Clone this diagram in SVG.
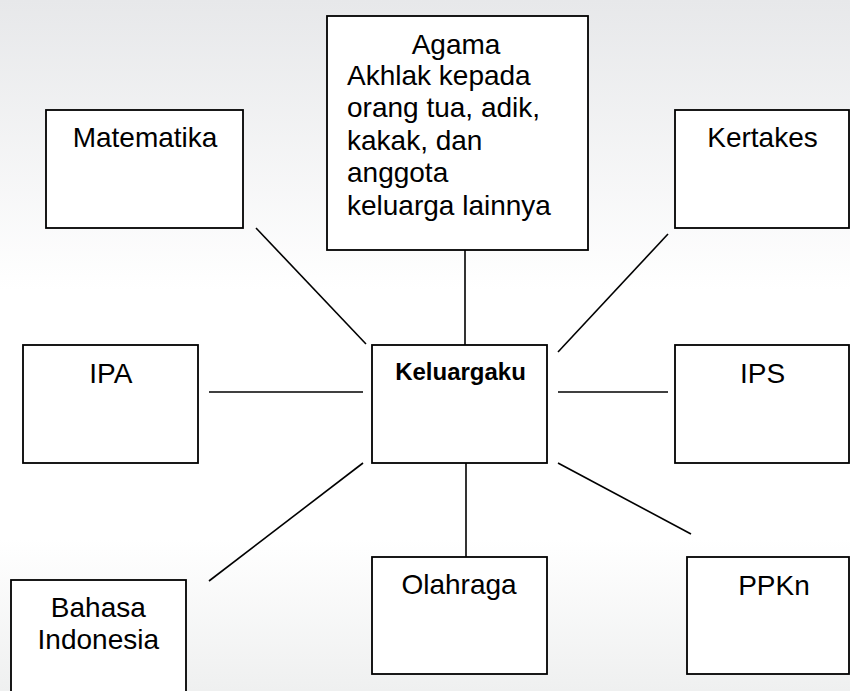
<svg xmlns="http://www.w3.org/2000/svg" width="850" height="691" viewBox="0 0 850 691">
<defs>
<linearGradient id="bg" x1="0" y1="0" x2="0" y2="1">
<stop offset="0" stop-color="#e7e8ea"/>
<stop offset="0.42" stop-color="#ffffff"/>
<stop offset="0.78" stop-color="#ffffff"/>
<stop offset="1" stop-color="#eff0f0"/>
</linearGradient>
</defs>
<style>
.box{fill:#ffffff;stroke:#000000;stroke-width:1.8}
.lbl{font-family:"Liberation Sans",Arial,sans-serif;font-size:28px;fill:#000000}
.c{text-anchor:middle}
.bold{font-weight:bold;font-size:24px}
.conn line{stroke:#000000;stroke-width:1.6}
</style>
<rect x="0" y="0" width="850" height="691" fill="url(#bg)"/>
<g id="connectors" class="conn">
<line x1="256" y1="228" x2="366" y2="344"/>
<line x1="465" y1="250" x2="465" y2="345"/>
<line x1="668" y1="234" x2="558" y2="352"/>
<line x1="209" y1="392" x2="363" y2="392"/>
<line x1="558" y1="392" x2="668" y2="392"/>
<line x1="363" y1="463" x2="209" y2="581"/>
<line x1="466" y1="463" x2="466" y2="557"/>
<line x1="558" y1="463" x2="691" y2="534"/>
</g>
<g id="agama">
<rect class="box" x="327" y="16" width="261" height="234"/>
<text class="lbl c" x="456" y="54">Agama</text>
<text class="lbl" x="347" y="84.5">Akhlak kepada</text>
<text class="lbl" x="347" y="117">orang tua, adik,</text>
<text class="lbl" x="347" y="149.5">kakak, dan</text>
<text class="lbl" x="347" y="182">anggota</text>
<text class="lbl" x="347" y="214.5">keluarga lainnya</text>
</g>
<g id="matematika">
<rect class="box" x="46" y="110" width="197" height="118"/>
<text class="lbl c" x="145" y="146.7">Matematika</text>
</g>
<g id="kertakes">
<rect class="box" x="675" y="110" width="174" height="118"/>
<text class="lbl c" x="762.5" y="146.7">Kertakes</text>
</g>
<g id="ipa">
<rect class="box" x="23" y="345" width="175" height="118"/>
<text class="lbl c" x="110.8" y="382.7">IPA</text>
</g>
<g id="keluargaku">
<rect class="box" x="372" y="345" width="175" height="118"/>
<text class="lbl c bold" x="460.5" y="380">Keluargaku</text>
</g>
<g id="ips">
<rect class="box" x="675" y="345" width="174" height="118"/>
<text class="lbl c" x="762.5" y="382.7">IPS</text>
</g>
<g id="bahasa">
<rect class="box" x="11" y="580" width="175" height="120"/>
<text class="lbl c" x="98.3" y="616.7">Bahasa</text>
<text class="lbl c" x="98.3" y="649.3">Indonesia</text>
</g>
<g id="olahraga">
<rect class="box" x="372" y="557" width="175" height="117"/>
<text class="lbl c" x="459" y="594.3">Olahraga</text>
</g>
<g id="ppkn">
<rect class="box" x="687" y="557" width="162" height="117"/>
<text class="lbl c" x="774" y="595">PPKn</text>
</g>
</svg>
